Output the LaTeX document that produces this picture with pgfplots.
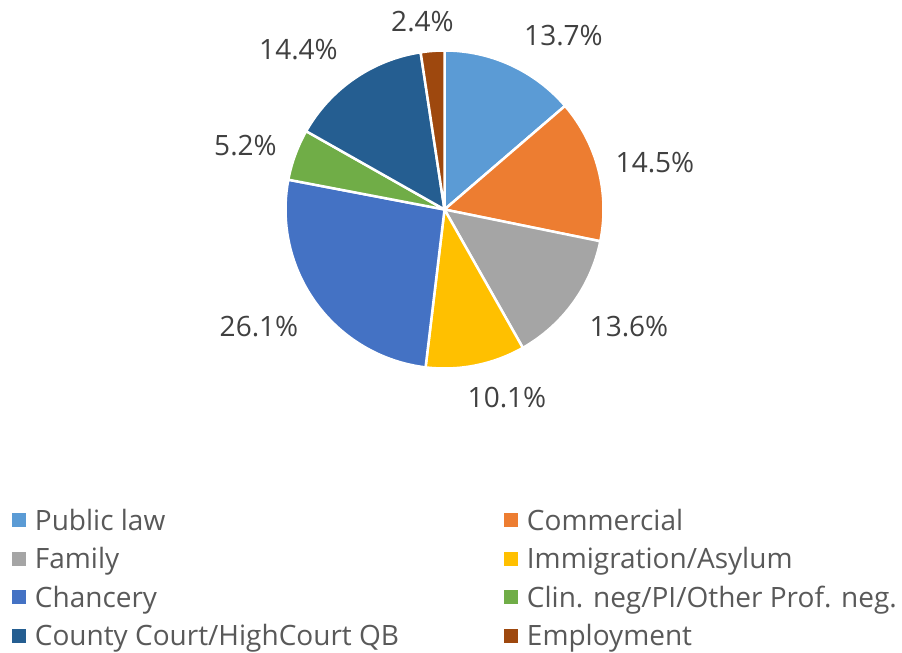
\documentclass[border=0pt]{standalone}
\usepackage{fontspec}
\setmainfont{Open Sans}
\usepackage{pgfplots}
\usepackage{pgfplotstable}
\pgfplotsset{compat=1.18}
\definecolor{c0}{HTML}{5B9BD5}
\definecolor{c1}{HTML}{ED7D31}
\definecolor{c2}{HTML}{A5A5A5}
\definecolor{c3}{HTML}{FFC000}
\definecolor{c4}{HTML}{4472C4}
\definecolor{c5}{HTML}{70AD47}
\definecolor{c6}{HTML}{255E91}
\definecolor{c7}{HTML}{9E480E}
\definecolor{labelgray}{HTML}{404040}
\definecolor{legendgray}{HTML}{595959}

% share (%), label centre x, label centre y (image coordinates)
\pgfplotstableread{
idx value lx    ly
0   13.7  563.5 36
1   14.5  655   162.5
2   13.6  629   327
3   10.1  507   398
4   26.1  259   327
5   5.2   245.5 146
6   14.4  298.5 50
7   2.4   422.5 22
}\piedata

\def\cumsum{0}
\pgfplotsforeachungrouped \i in {0,...,7}{%
  \pgfplotstablegetelem{\i}{value}\of\piedata
  \let\v\pgfplotsretval
  \pgfmathsetmacro\sa{90-3.6*\cumsum}%
  \pgfmathsetmacro\newcum{\cumsum+\v}%
  \let\cumsum\newcum
  \pgfmathsetmacro\ea{90-3.6*\cumsum}%
  \expandafter\xdef\csname sa\i\endcsname{\sa}%
  \expandafter\xdef\csname ea\i\endcsname{\ea}%
  \expandafter\xdef\csname val\i\endcsname{\v}%
  \pgfplotstablegetelem{\i}{lx}\of\piedata
  \expandafter\xdef\csname lx\i\endcsname{\pgfplotsretval}%
  \pgfplotstablegetelem{\i}{ly}\of\piedata
  \expandafter\xdef\csname ly\i\endcsname{\pgfplotsretval}%
}

\begin{document}
\begin{tikzpicture}
\begin{axis}[
  scale only axis, width=902bp, height=653bp,
  xmin=0, xmax=902, ymin=0, ymax=653,
  y dir=reverse,
  hide axis, clip=false,
  legend columns=2,
  legend cell align=left,
  legend style={
    at={(axis cs:12,509)}, anchor=north west,
    draw=none, fill=none, inner sep=0pt, outer sep=0pt,
    font=\fontsize{28bp}{33bp}\selectfont, text=legendgray,
    nodes={inner xsep=0bp, inner ysep=0bp, text height=21bp, text depth=6bp},
    row sep=11.5bp,
    /tikz/every even column/.append style={column sep=105bp},
  },
  legend image code/.code={\fill[#1] (0bp,-4bp) rectangle (13bp,9bp); \path (22.5bp,0bp);},
]
\path (axis cs:0,0) rectangle (axis cs:902,653);
\pgfplotsinvokeforeach{0,...,7}{
  \fill[c#1, draw=white, line width=2.5bp, line join=round]
    (axis cs:444.5,209.5) -- ++(\csname sa#1\endcsname:159bp)
    arc[start angle=\csname sa#1\endcsname, end angle=\csname ea#1\endcsname, radius=159bp] -- cycle;
  \node[text=labelgray, font=\fontsize{28bp}{33bp}\selectfont, inner sep=0pt]
    at (axis cs:\csname lx#1\endcsname,\csname ly#1\endcsname) {\csname val#1\endcsname\%};
}
\addlegendimage{c0}\addlegendentry{Public law}
\addlegendimage{c1}\addlegendentry{Commercial}
\addlegendimage{c2}\addlegendentry{Family}
\addlegendimage{c3}\addlegendentry{Immigration/Asylum}
\addlegendimage{c4}\addlegendentry{Chancery}
\addlegendimage{c5}\addlegendentry{Clin. neg/PI/Other Prof. neg.}
\addlegendimage{c6}\addlegendentry{County Court/HighCourt QB}
\addlegendimage{c7}\addlegendentry{Employment}
\end{axis}
\end{tikzpicture}
\end{document}
